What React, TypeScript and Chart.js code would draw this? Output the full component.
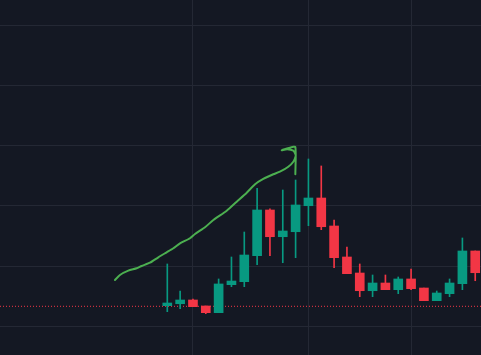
import React, { useEffect, useRef } from "react";
import { Chart, registerables } from "chart.js";

Chart.register(...registerables);

// Candle data (index = position on the time axis)
const opens = [3.42, 3.75, 4.37, 3.37, 2.26, 6.91, 7.41, 11.73, 19.32, 14.88, 15.71, 20.03, 21.31, 16.66, 11.51, 8.85, 5.91, 7.19, 6.08, 7.86, 6.36, 4.25, 5.42, 7.08, 12.51];
const closes = [3.87, 4.37, 3.26, 2.26, 7.03, 7.52, 11.84, 19.32, 14.88, 15.83, 20.15, 21.31, 16.54, 11.4, 8.74, 5.91, 7.19, 6.08, 7.86, 6.25, 4.25, 5.53, 7.19, 12.51, 8.9];
const highs = [10.35, 5.86, 4.53, 3.37, 7.86, 11.51, 15.66, 22.92, 19.49, 22.64, 24.3, 27.79, 26.63, 17.66, 13.17, 10.35, 8.52, 8.52, 8.19, 9.52, 6.36, 5.86, 7.86, 14.67, 12.51];
const lows = [2.43, 2.92, 3.26, 2.09, 2.26, 6.58, 6.58, 10.23, 11.73, 10.56, 11.4, 16.71, 16.05, 9.73, 8.74, 4.92, 4.92, 6.08, 5.42, 6.08, 4.25, 4.25, 4.92, 6.08, 7.57];

// Hand-drawn trend line with arrow head (x in candle-index units, y in price units)
const drawX = [-4.08, -3.69, -3.04, -2.39, -2.0, -1.35, -0.7, -0.05, 0.47, 0.99, 1.77, 2.16, 2.94, 3.59, 4.63, 5.41, 6.19, 6.84, 7.48, 8.26, 8.78, 9.43, 9.82, 10.01, 9.98, 9.82, 9.35, 8.92, 9.56, 9.98, 9.98];
const drawY = [7.69, 8.52, 9.24, 9.63, 10.02, 10.56, 11.46, 12.29, 12.96, 13.79, 14.62, 15.33, 16.45, 17.66, 19.2, 20.7, 22.19, 23.59, 24.47, 25.25, 25.68, 26.51, 27.34, 28.29, 28.62, 29.17, 29.4, 29.24, 29.67, 29.78, 25.25];

// Price line level
const priceLevel = 3.32;

// Grid positions
const yGridValues = [0, 10, 20, 30, 40, 50];
const xGridValues = [2, 11, 19];

const X_MIN = -13.04;
const X_MAX = 24.45;
const Y_MIN = -4.77;
const Y_MAX = 54.2;

const UP = "#089981";
const DOWN = "#F23645";
const BG = "#141823";
const GRID = "#242834";

export default function App() {
  const ref = useRef<HTMLCanvasElement | null>(null);

  useEffect(() => {
    document.body.style.margin = "0";
    document.body.style.background = BG;
    const canvas = ref.current;
    if (!canvas) return;

    const idx = opens.map((_, i) => i);
    const colors = idx.map((i) => (closes[i] >= opens[i] ? UP : DOWN));

    const chart = new Chart(canvas, {
      type: "bar",
      data: {
        datasets: [
          {
            type: "line",
            label: "price line",
            data: [
              { x: X_MIN, y: priceLevel },
              { x: X_MAX, y: priceLevel },
            ],
            borderColor: DOWN,
            borderWidth: 1,
            borderDash: [1, 2],
            pointRadius: 0,
            order: 5,
          } as any,
          {
            label: "wicks",
            data: idx.map((i) => ({ x: i, y: [lows[i], highs[i]] })),
            backgroundColor: colors,
            borderWidth: 0,
            barThickness: 1,
            grouped: false,
            order: 4,
          } as any,
          {
            label: "bodies",
            data: idx.map((i) => ({
              x: i,
              y: [Math.min(opens[i], closes[i]), Math.max(opens[i], closes[i])],
            })),
            backgroundColor: colors,
            borderWidth: 0,
            barThickness: 9,
            grouped: false,
            order: 3,
          } as any,
          {
            type: "line",
            label: "drawing",
            data: drawX.map((x, i) => ({ x, y: drawY[i] })),
            borderColor: "#4CAF50",
            borderWidth: 2,
            pointRadius: 0,
            tension: 0.2,
            borderCapStyle: "round",
            borderJoinStyle: "round",
            order: 1,
          } as any,
        ],
      },
      options: {
        responsive: false,
        animation: false,
        layout: { padding: 0 },
        plugins: {
          legend: { display: false },
          tooltip: { enabled: false },
        },
        scales: {
          x: {
            type: "linear",
            min: X_MIN,
            max: X_MAX,
            offset: false,
            afterBuildTicks: (axis: any) => {
              axis.ticks = xGridValues.map((v) => ({ value: v }));
            },
            ticks: { display: false },
            border: { display: false },
            grid: { color: GRID, drawTicks: false, lineWidth: 1, offset: false },
          },
          y: {
            type: "linear",
            min: Y_MIN,
            max: Y_MAX,
            afterBuildTicks: (axis: any) => {
              axis.ticks = yGridValues.map((v) => ({ value: v }));
            },
            ticks: { display: false },
            border: { display: false },
            grid: { color: GRID, drawTicks: false, lineWidth: 1 },
          },
        },
      },
    });

    return () => chart.destroy();
  }, []);

  return (
    <div style={{ width: 481, height: 355, background: BG }}>
      <canvas ref={ref} width={481} height={355} style={{ display: "block" }} />
    </div>
  );
}
